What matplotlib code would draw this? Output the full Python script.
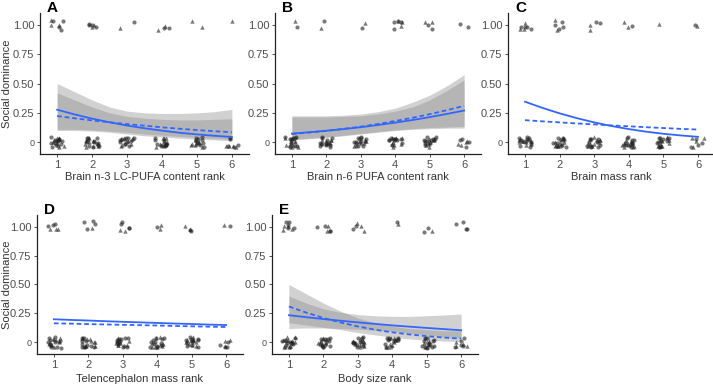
import numpy as np
import matplotlib.pyplot as plt

plt.rcParams['font.family'] = ['Liberation Sans', 'DejaVu Sans']

xs = [1, 1.5, 2, 2.5, 3, 3.5, 4, 4.5, 5, 5.5, 6]
ranks = [1, 2, 3, 4, 5, 6]

# ---- panel A: brain n-3 LC-PUFA
a_fit_solid = [0.277, 0.237, 0.201, 0.170, 0.142, 0.119, 0.099, 0.081, 0.067, 0.055, 0.045]
a_fit_dash = [0.223, 0.204, 0.186, 0.170, 0.154, 0.141, 0.127, 0.115, 0.104, 0.094, 0.085]
a_ci_solid_lo = [0.10, 0.10, 0.095, 0.085, 0.07, 0.055, 0.045, 0.035, 0.025, 0.02, 0.012]
a_ci_solid_hi = [0.50, 0.43, 0.36, 0.30, 0.265, 0.25, 0.245, 0.245, 0.25, 0.26, 0.28]
a_ci_dash_lo = [0.11, 0.11, 0.105, 0.095, 0.085, 0.07, 0.06, 0.05, 0.04, 0.032, 0.025]
a_ci_dash_hi = [0.42, 0.36, 0.30, 0.25, 0.22, 0.205, 0.195, 0.19, 0.19, 0.195, 0.20]
a_dom_circ = [4, 4, 1, 2, 0, 0]
a_dom_tri = [3, 2, 1, 2, 2, 1]
a_sub_circ = [12, 12, 11, 10, 10, 5]
a_sub_tri = [10, 10, 9, 10, 8, 4]

# ---- panel B: brain n-6 PUFA
b_fit_solid = [0.074, 0.085, 0.098, 0.112, 0.128, 0.147, 0.167, 0.189, 0.214, 0.241, 0.27]
b_fit_dash = [0.070, 0.083, 0.097, 0.114, 0.133, 0.155, 0.181, 0.208, 0.239, 0.273, 0.31]
b_ci_solid_lo = [0.025, 0.035, 0.045, 0.06, 0.075, 0.09, 0.105, 0.115, 0.125, 0.13, 0.135]
b_ci_solid_hi = [0.215, 0.215, 0.215, 0.22, 0.225, 0.24, 0.265, 0.30, 0.36, 0.44, 0.53]
b_ci_dash_lo = [0.02, 0.03, 0.04, 0.055, 0.07, 0.085, 0.10, 0.11, 0.115, 0.12, 0.12]
b_ci_dash_hi = [0.225, 0.225, 0.225, 0.23, 0.24, 0.26, 0.29, 0.34, 0.40, 0.48, 0.575]
b_dom_circ = [1, 1, 1, 4, 2, 2]
b_dom_tri = [1, 1, 1, 3, 2, 0]
b_sub_circ = [12, 12, 11, 10, 11, 4]
b_sub_tri = [10, 9, 9, 9, 9, 4]

# ---- panel C: brain mass
c_fit_solid = [0.345, 0.293, 0.246, 0.205, 0.169, 0.138, 0.112, 0.090, 0.072, 0.058, 0.046]
c_fit_dash = [0.188, 0.178, 0.169, 0.160, 0.152, 0.143, 0.136, 0.128, 0.121, 0.114, 0.108]
c_dom_circ = [4, 4, 2, 1, 0, 1]
c_dom_tri = [3, 2, 2, 2, 1, 1]
c_sub_circ = [11, 11, 11, 11, 11, 4]
c_sub_tri = [10, 9, 10, 10, 10, 4]

# ---- panel D: telencephalon mass
d_fit_solid = [0.200, 0.194, 0.189, 0.183, 0.178, 0.173, 0.168, 0.163, 0.159, 0.154, 0.150]
d_fit_dash = [0.165, 0.162, 0.158, 0.155, 0.152, 0.149, 0.146, 0.142, 0.139, 0.136, 0.133]
d_dom_circ = [3, 4, 4, 1, 2, 1]
d_dom_tri = [3, 1, 2, 2, 2, 1]
d_sub_circ = [11, 11, 11, 12, 11, 4]
d_sub_tri = [10, 10, 10, 9, 10, 3]

# ---- panel E: body size
e_fit_solid = [0.235, 0.218, 0.202, 0.187, 0.173, 0.160, 0.147, 0.136, 0.125, 0.115, 0.105]
e_fit_dash = [0.310, 0.258, 0.211, 0.172, 0.138, 0.110, 0.087, 0.069, 0.054, 0.042, 0.033]
e_ci_solid_lo = [0.12, 0.125, 0.125, 0.12, 0.115, 0.105, 0.095, 0.08, 0.065, 0.05, 0.04]
e_ci_solid_hi = [0.40, 0.34, 0.29, 0.26, 0.24, 0.23, 0.225, 0.225, 0.23, 0.237, 0.245]
e_ci_dash_lo = [0.17, 0.15, 0.13, 0.11, 0.085, 0.065, 0.045, 0.03, 0.02, 0.012, 0.008]
e_ci_dash_hi = [0.50, 0.42, 0.34, 0.27, 0.21, 0.17, 0.14, 0.12, 0.11, 0.10, 0.10]
e_dom_circ = [5, 4, 2, 1, 2, 4]
e_dom_tri = [4, 2, 3, 1, 1, 0]
e_sub_circ = [12, 11, 12, 11, 11, 5]
e_sub_tri = [10, 10, 10, 10, 10, 4]

xlabels = ['Brain n-3 LC-PUFA content rank', 'Brain n-6 PUFA content rank',
           'Brain mass rank', 'Telencephalon mass rank', 'Body size rank']
letters = ['A', 'B', 'C', 'D', 'E']

W, H = 713, 387
fig = plt.figure(figsize=(W / 100, H / 100), dpi=100)

# axes boxes in pixels: left, top, width, height
boxes = [(40, 13, 209, 141), (275, 13, 206, 141), (508, 13, 207, 141),
         (37, 215, 206, 139), (272, 215, 206, 139)]

panels = [
    (a_fit_solid, a_fit_dash, (a_ci_solid_lo, a_ci_solid_hi, a_ci_dash_lo, a_ci_dash_hi),
     a_dom_circ, a_dom_tri, a_sub_circ, a_sub_tri),
    (b_fit_solid, b_fit_dash, (b_ci_solid_lo, b_ci_solid_hi, b_ci_dash_lo, b_ci_dash_hi),
     b_dom_circ, b_dom_tri, b_sub_circ, b_sub_tri),
    (c_fit_solid, c_fit_dash, None, c_dom_circ, c_dom_tri, c_sub_circ, c_sub_tri),
    (d_fit_solid, d_fit_dash, None, d_dom_circ, d_dom_tri, d_sub_circ, d_sub_tri),
    (e_fit_solid, e_fit_dash, (e_ci_solid_lo, e_ci_solid_hi, e_ci_dash_lo, e_ci_dash_hi),
     e_dom_circ, e_dom_tri, e_sub_circ, e_sub_tri),
]

blue = '#3366FF'
rng = np.random.default_rng(7)  # display jitter only (like geom_jitter)


def jitter_points(ax, counts, level, marker):
    for r, n in zip(ranks, counts):
        if n == 0:
            continue
        px = r + rng.uniform(-0.2, 0.2, n)
        py = level + rng.uniform(-0.045, 0.045, n)
        ax.scatter(px, py, s=9 if marker == 'o' else 10, marker=marker, color='#222222',
                   alpha=0.6, linewidths=0, zorder=3)


for i, (box, p) in enumerate(zip(boxes, panels)):
    l, t, w, h = box
    ax = fig.add_axes([l / W, 1 - (t + h) / H, w / W, h / H])
    fit_s, fit_d, ci, dc, dt, sc, st = p

    if ci is not None:
        ax.fill_between(xs, ci[0], ci[1], color='#8c8c8c', alpha=0.4, linewidth=0, zorder=1)
        ax.fill_between(xs, ci[2], ci[3], color='#8c8c8c', alpha=0.4, linewidth=0, zorder=1)

    jitter_points(ax, dc, 1, 'o')
    jitter_points(ax, dt, 1, '^')
    jitter_points(ax, sc, 0, 'o')
    jitter_points(ax, st, 0, '^')

    ax.plot(xs, fit_s, color=blue, lw=1.3, zorder=4)
    ax.plot(xs, fit_d, color=blue, lw=1.3, ls=(0, (2.6, 1.6)), zorder=4)

    ax.set_xlim(0.51, 6.49)
    ax.set_ylim(-0.1, 1.1)
    ax.set_xticks(ranks)
    ax.set_yticks([0, 0.25, 0.5, 0.75, 1.0])
    ax.set_yticklabels(['0', '0.25', '0.50', '0.75', '1.00'])
    ax.tick_params(axis='both', length=2.5, width=0.6, color='#333333',
                   labelcolor='#4d4d4d', labelsize=8, pad=1.5)
    ax.get_yticklabels()[0].set_fontsize(6.5)
    for s in ['top', 'right']:
        ax.spines[s].set_visible(False)
    for s in ['left', 'bottom']:
        ax.spines[s].set_linewidth(0.9)
        ax.spines[s].set_color('#222222')
    ax.set_xlabel(xlabels[i], fontsize=8, color='#333333', labelpad=2 if i < 3 else 3)
    if i in (0, 3):
        ax.set_ylabel('Social dominance', fontsize=8, color='#333333')
        ax.yaxis.set_label_coords((11.5 - l) / w, 0.5)

    fig.text((l + 7) / W, 1 - (t - 5) / H, letters[i], fontsize=11, fontweight='bold',
             ha='left', va='center')

fig.savefig('out.png', dpi=100)
